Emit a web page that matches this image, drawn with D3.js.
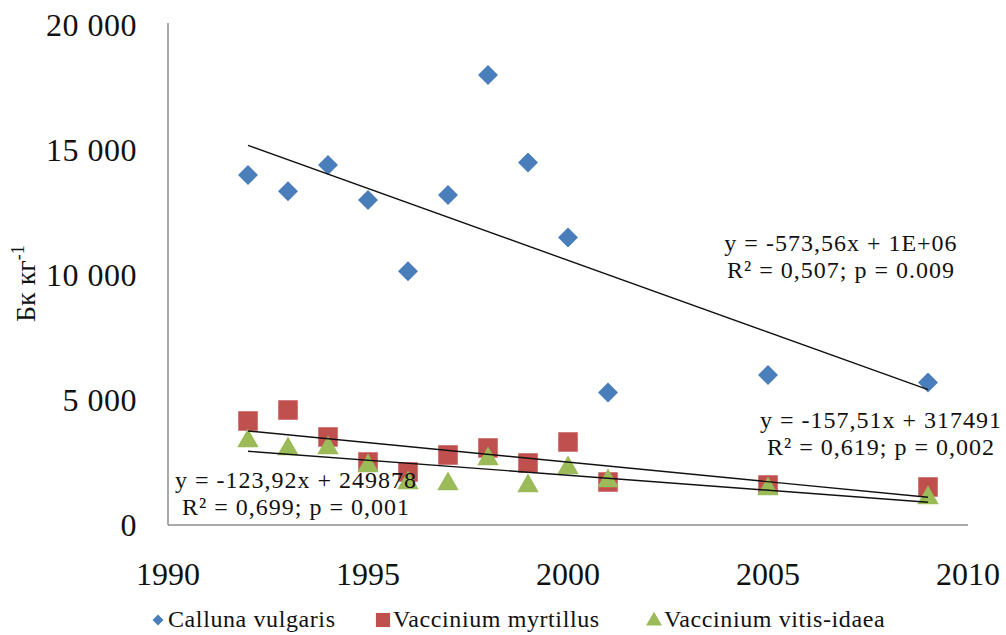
<!DOCTYPE html>
<html>
<head>
<meta charset="utf-8">
<script src="https://cdn.jsdelivr.net/npm/d3@7"></script>
<style>
    body { margin: 0; background: #fff; }
</style>
</head>
<body>
<div id="chart"></div>
<script>
const years = [1992, 1993, 1994, 1995, 1996, 1997, 1998, 1999, 2000, 2001, 2005, 2009];
const callunaValues = [14000, 13350, 14400, 13000, 10150, 13200, 18000, 14500, 11500, 5300, 6000, 5700];
const myrtillusValues = [4160, 4600, 3520, 2520, 2120, 2800, 3080, 2480, 3320, 1720, 1600, 1520];
const vitisValues = [3400, 3080, 3120, 2400, 1720, 1680, 2680, 1600, 2320, 1800, 1480, 1120];

const seriesNames = ["Calluna vulgaris", "Vaccinium myrtillus", "Vaccinium vitis-idaea"];
const seriesColors = ["#4a7ebb", "#c0504d", "#9bbb59"];
const xTicks = [1990, 1995, 2000, 2005, 2010];
const yTicks = [0, 5000, 10000, 15000, 20000];
const equations = [
    ["y = -573,56x + 1E+06", "R² = 0,507; p = 0.009"],
    ["y = -157,51x + 317491", "R² = 0,619; p = 0,002"],
    ["y = -123,92x + 249878", "R² = 0,699; p = 0,001"]
];

const WIDTH = 1006, HEIGHT = 635;
const SERIF = "'Liberation Serif', 'Times New Roman', 'DejaVu Serif', serif";

const svg = d3.select("#chart").append("svg")
    .attr("width", WIDTH)
    .attr("height", HEIGHT)
    .style("display", "block");

const x = d3.scaleLinear().domain([1990, 2010]).range([168, 968]);
const y = d3.scaleLinear().domain([0, 20000]).range([525, 25]);

const fmt = v => d3.format(",")(v).replace(",", " ");

function label(sel) {
    return sel.append("text").style("font-family", SERIF).attr("fill", "#111");
}

// axes lines (no ticks, no grid)
svg.append("line")
    .attr("x1", x(1990)).attr("x2", x(1990))
    .attr("y1", y(20000) - 2).attr("y2", y(0))
    .attr("stroke", "#8c8c8c").attr("stroke-width", 1.5);
svg.append("line")
    .attr("x1", x(1990)).attr("x2", x(2010))
    .attr("y1", y(0)).attr("y2", y(0))
    .attr("stroke", "#8c8c8c").attr("stroke-width", 1.5);

yTicks.forEach(d => {
    label(svg)
        .attr("x", 137)
        .attr("y", y(d) + 11)
        .attr("text-anchor", "end")
        .style("font-size", "32px")
        .style("letter-spacing", "0.5px")
        .text(fmt(d));
});

xTicks.forEach(d => {
    label(svg)
        .attr("x", x(d))
        .attr("y", 585)
        .attr("text-anchor", "middle")
        .style("font-size", "32px")
        .text(d);
});

// y axis title
const title = label(svg)
    .attr("transform", "translate(35,322) rotate(-90)")
    .style("font-size", "28px");
title.append("tspan").text("Бк кг");
title.append("tspan").attr("dy", -11).style("font-size", "18px").text("-1");

// ==================== Series =====================
const series = [callunaValues, myrtillusValues, vitisValues].map((vals, i) => ({
    xs: years,
    ys: vals,
    points: years.map((yr, j) => ({year: yr, value: vals[j]})),
    color: seriesColors[i]
}));

function linearFit(xs, ys) {
    const mx = d3.mean(xs), my = d3.mean(ys);
    const slope = d3.sum(xs, (v, i) => (v - mx) * (ys[i] - my)) / d3.sum(xs, v => (v - mx) * (v - mx));
    return {slope, intercept: my - slope * mx};
}

// marker shapes: diamond = rotated square
const markerPath = [
    d3.symbol(d3.symbolSquare, 200)(),
    d3.symbol(d3.symbolSquare, 380)(),
    d3.symbol(d3.symbolTriangle, 200)()
];
const markerRotate = [45, 0, 0];
const markerDy = [0, 0, 1];

series.forEach((s, i) => {
    svg.selectAll(".pt" + i)
        .data(s.points)
        .enter()
        .append("path")
        .attr("class", "pt" + i)
        .attr("d", markerPath[i])
        .attr("transform", d => `translate(${x(d.year)},${y(d.value) + markerDy[i]}) rotate(${markerRotate[i]})`)
        .attr("fill", s.color);
});

// trend lines
series.forEach(s => {
    const fit = linearFit(s.xs, s.ys);
    const x0 = d3.min(s.xs), x1 = d3.max(s.xs);
    svg.append("line")
        .attr("x1", x(x0)).attr("y1", y(fit.slope * x0 + fit.intercept))
        .attr("x2", x(x1)).attr("y2", y(fit.slope * x1 + fit.intercept))
        .attr("stroke", "#111").attr("stroke-width", 1.4);
});

// equations
const eqPos = [[841, 251], [881, 428], [296, 488]];
equations.forEach((lines, i) => {
    const t = label(svg)
        .attr("text-anchor", "middle")
        .style("font-size", "24px")
        .style("letter-spacing", "1px");
    lines.forEach((l, j) => {
        t.append("tspan")
            .attr("x", eqPos[i][0])
            .attr("y", eqPos[i][1] + j * 27)
            .text(l);
    });
});

// ==================== Legend =====================
const legendX = [158, 383, 654];
const legendPath = [
    d3.symbol(d3.symbolSquare, 60)(),
    d3.symbol(d3.symbolSquare, 200)(),
    d3.symbol(d3.symbolTriangle, 110)()
];
series.forEach((s, i) => {
    svg.append("path")
        .attr("d", legendPath[i])
        .attr("transform", `translate(${legendX[i]},${i === 2 ? 621 : 620}) rotate(${markerRotate[i]})`)
        .attr("fill", s.color);
    label(svg)
        .attr("x", legendX[i] + 10)
        .attr("y", 627)
        .style("font-size", "24px")
        .style("letter-spacing", "0.6px")
        .text(seriesNames[i]);
});
</script>
</body>
</html>
